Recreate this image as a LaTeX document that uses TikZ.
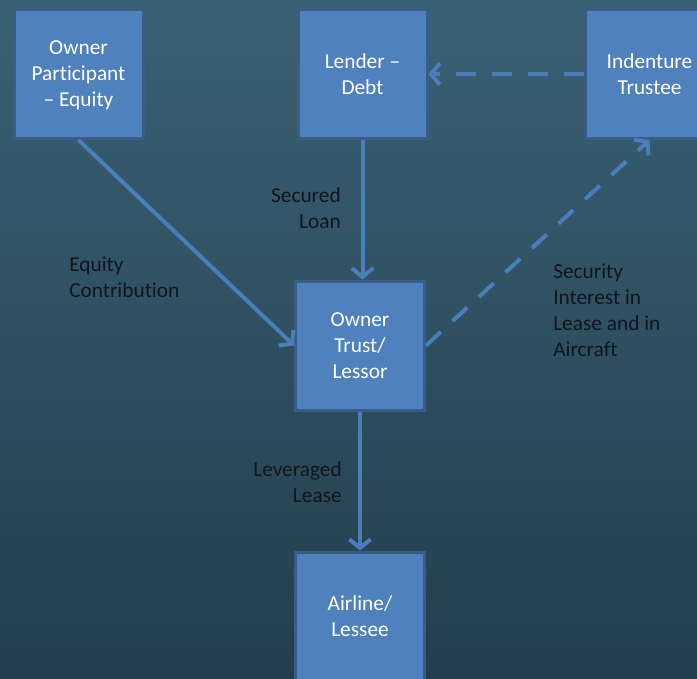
\documentclass[tikz,border=0pt]{standalone}
\usepackage{fontspec}
\setmainfont{Carlito}[Ligatures=NoCommon]
\usetikzlibrary{arrows.meta, positioning}
\definecolor{bgtop}{RGB}{57, 97, 116}
\definecolor{bgbottom}{RGB}{36, 62, 77}
\definecolor{boxblue}{RGB}{79, 129, 189}
\definecolor{boxedge}{RGB}{56, 93, 138}
\definecolor{arrowblue}{RGB}{74, 126, 187}
\definecolor{labelblack}{RGB}{18, 22, 26}

\tikzset{
  party/.style={draw=boxedge, fill=boxblue, line width=2.25pt, minimum width=96.75pt,
    minimum height=96.75pt, align=center, text=white, text depth=0pt,
    font=\fontsize{16}{19.5}\selectfont},
  flowlabel/.style={inner sep=0pt, text=labelblack, font=\fontsize{16}{19.5}\selectfont},
  flow/.style={draw=arrowblue, line width=3pt, -{Straight Barb[length=6.5pt, width=16pt]}},
  secflow/.style={flow, dash pattern=on 15pt off 12pt}
}

\begin{document}
\begin{tikzpicture}[x=0.75pt, y=-0.75pt]
  % background
  \shade[top color=bgtop, bottom color=bgbottom] (0,0) rectangle (697,679);
  \useasboundingbox (0,0) rectangle (697,679);
  \clip (0,0) rectangle (697,679);

  % parties
  \node[party] (owner) at (78.5, 74) {Owner\\Participant\\-- Equity};
  \node[party] (lender) at (362.5, 74) {Lender --\\Debt};
  \node[party] (trustee) at (649.5, 74) {Indenture\\Trustee};
  \node[party] (trust) at (360, 345.5) {Owner\\Trust/\\Lessor};
  \node[party] (airline) at (360, 616.5) {Airline/\\Lessee};

  % flows
  \draw[flow] (owner.south) -- (trust.west);
  \draw[flow] (lender.south) -- (lender.south |- trust.north);
  \draw[secflow] (trust.east) -- (trustee.south);
  \draw[secflow] (trustee.west) -- (lender.east);
  \draw[flow] (trust.south) -- (airline.north);

  % labels
  \node[flowlabel, anchor=west, align=left] (equitylbl) at (69, 277.5) {Equity\\Contribution};
  \node[flowlabel, anchor=east, align=right] (loanlbl) at (341, 208.5) {Secured\\Loan};
  \node[flowlabel, anchor=east, align=right] (leaselbl) at (342, 482) {Leveraged\\Lease};
  \node[flowlabel, anchor=west, align=left] (securitylbl) at (553, 310) {Security\\Interest in\\Lease and in\\Aircraft};
\end{tikzpicture}
\end{document}
